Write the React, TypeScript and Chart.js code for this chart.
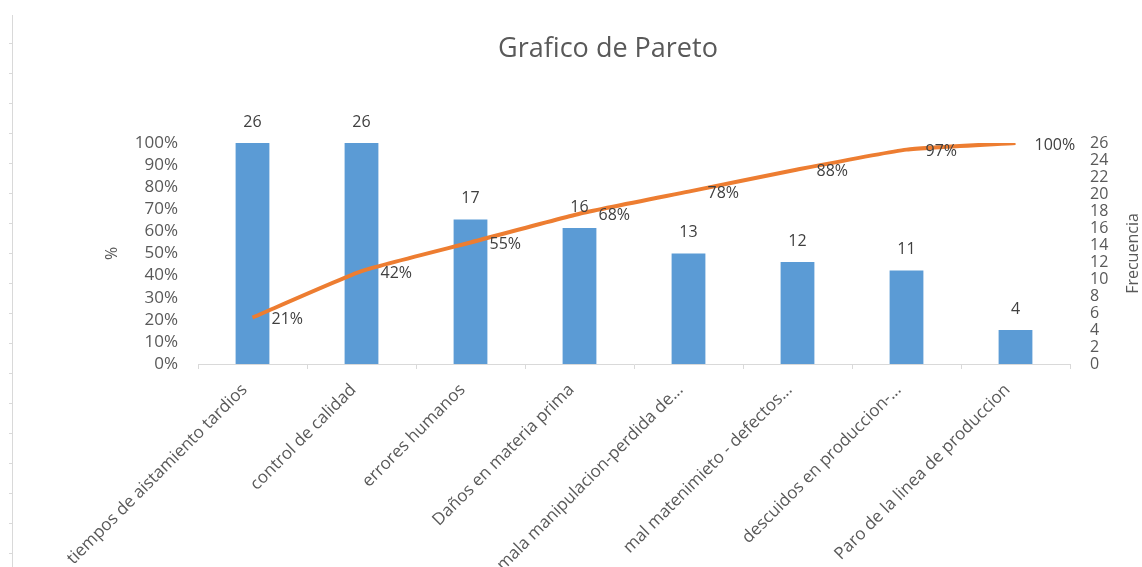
import React, { useEffect, useRef } from "react";
import { Chart, registerables } from "chart.js";

Chart.register(...registerables);

const categories = [
  "tiempos de aistamiento tardios",
  "control de calidad",
  "errores humanos",
  "Daños en materia prima",
  "mala manipulacion-perdida de...",
  "mal matenimieto - defectos...",
  "descuidos en produccion-...",
  "Paro de la linea de produccion",
];
const frequencies = [26, 26, 17, 16, 13, 12, 11, 4];
const cumulativePct = [21, 42, 55, 68, 78, 88, 97, 100];
const chartTitle = "Grafico de Pareto";

const FONT = "'Open Sans', 'DejaVu Sans', sans-serif";
const TEXT = "#595959";
const LABEL = "#404040";

const labelsPlugin = {
  id: "valueLabels",
  afterDatasetsDraw(chart: any) {
    const ctx = chart.ctx;
    ctx.save();
    ctx.font = `16px ${FONT}`;
    ctx.fillStyle = LABEL;
    chart.data.datasets.forEach((ds: any, di: number) => {
      const meta = chart.getDatasetMeta(di);
      meta.data.forEach((el: any, i: number) => {
        const v = ds.data[i];
        if (ds.type === "bar") {
          ctx.textAlign = "center";
          ctx.textBaseline = "middle";
          ctx.fillText(String(v), el.x, el.y - 21);
        } else {
          ctx.textAlign = "left";
          ctx.textBaseline = "middle";
          ctx.fillText(v + "%", el.x + 19, el.y + 2);
        }
      });
    });
    // chart title
    ctx.font = `27px ${FONT}`;
    ctx.fillStyle = TEXT;
    ctx.textAlign = "center";
    ctx.textBaseline = "middle";
    ctx.fillText(chartTitle, 608, 49);
    // right axis title, rotated to read bottom-to-top
    const s = chart.scales.y1;
    ctx.font = `16px ${FONT}`;
    ctx.translate(s.right - 9, (s.top + s.bottom) / 2);
    ctx.rotate(-Math.PI / 2);
    ctx.fillText("Frecuencia", 0, 0);
    ctx.restore();
  },
};

export default function App() {
  const ref = useRef<HTMLCanvasElement>(null);
  useEffect(() => {
    if (!ref.current) return;
    Chart.defaults.font.family = FONT;
    const chart = new Chart(ref.current, {
      type: "bar",
      data: {
        labels: categories,
        datasets: [
          {
            type: "line",
            label: "%",
            data: cumulativePct,
            yAxisID: "y",
            borderColor: "#ED7D31",
            backgroundColor: "#ED7D31",
            borderWidth: 4,
            pointRadius: 0,
            tension: 0.15,
            order: 0,
          } as any,
          {
            type: "bar",
            label: "Frecuencia",
            data: frequencies,
            yAxisID: "y1",
            backgroundColor: "#5B9BD5",
            categoryPercentage: 1,
            barPercentage: 0.31,
            order: 1,
          } as any,
        ],
      },
      options: {
        responsive: false,
        animation: false,
        layout: { padding: { top: 143 } },
        plugins: {
          legend: { display: false },
          tooltip: { enabled: false },
          title: { display: false },
        },
        scales: {
          x: {
            grid: {
              display: true,
              drawOnChartArea: false,
              drawTicks: true,
              tickLength: 5,
              color: "#D9D9D9",
              offset: true,
            },
            border: { display: true, color: "#D9D9D9" },
            ticks: {
              color: TEXT,
              font: { size: 17 },
              minRotation: 45,
              maxRotation: 45,
              autoSkip: false,
              padding: 11,
              labelOffset: -8,
            },
            afterFit(scale: any) {
              scale.height = 203;
            },
          },
          y: {
            position: "left",
            min: 0,
            max: 100,
            grid: { display: false, drawTicks: false },
            border: { display: false },
            ticks: {
              stepSize: 10,
              color: TEXT,
              font: { size: 17 },
              padding: 20,
              autoSkip: false,
              callback: (v: any) => v + "%",
            },
            title: {
              display: true,
              text: "%",
              color: TEXT,
              font: { size: 16 },
              padding: { top: 103, bottom: 0 },
            },
            afterFit(scale: any) {
              scale.width = 198;
            },
          },
          y1: {
            position: "right",
            min: 0,
            max: 26,
            grid: { display: false, drawTicks: false },
            border: { display: false },
            ticks: {
              stepSize: 2,
              color: TEXT,
              font: { size: 16 },
              padding: 20,
              autoSkip: false,
            },
            afterFit(scale: any) {
              scale.width = 72;
            },
          },
        },
      },
      plugins: [labelsPlugin],
    } as any);
    return () => chart.destroy();
  }, []);

  return (
    <div
      style={{
        position: "fixed",
        left: 0,
        top: 0,
        width: 1142,
        height: 567,
        background: "#fff",
        overflow: "hidden",
      }}
    >
      <div
        style={{
          position: "absolute",
          left: 12,
          top: 15,
          width: 1,
          height: 552,
          background: "#D9D9D9",
        }}
      />
      <div
        style={{
          position: "absolute",
          left: 9,
          top: 15,
          width: 3,
          height: 552,
          background:
            "repeating-linear-gradient(to bottom, transparent 0px, transparent 28px, #D9D9D9 28px, #D9D9D9 29px, transparent 29px, transparent 30px)",
        }}
      />
      <canvas ref={ref} width={1142} height={567} style={{ position: "absolute", left: 0, top: 0 }} />
    </div>
  );
}
